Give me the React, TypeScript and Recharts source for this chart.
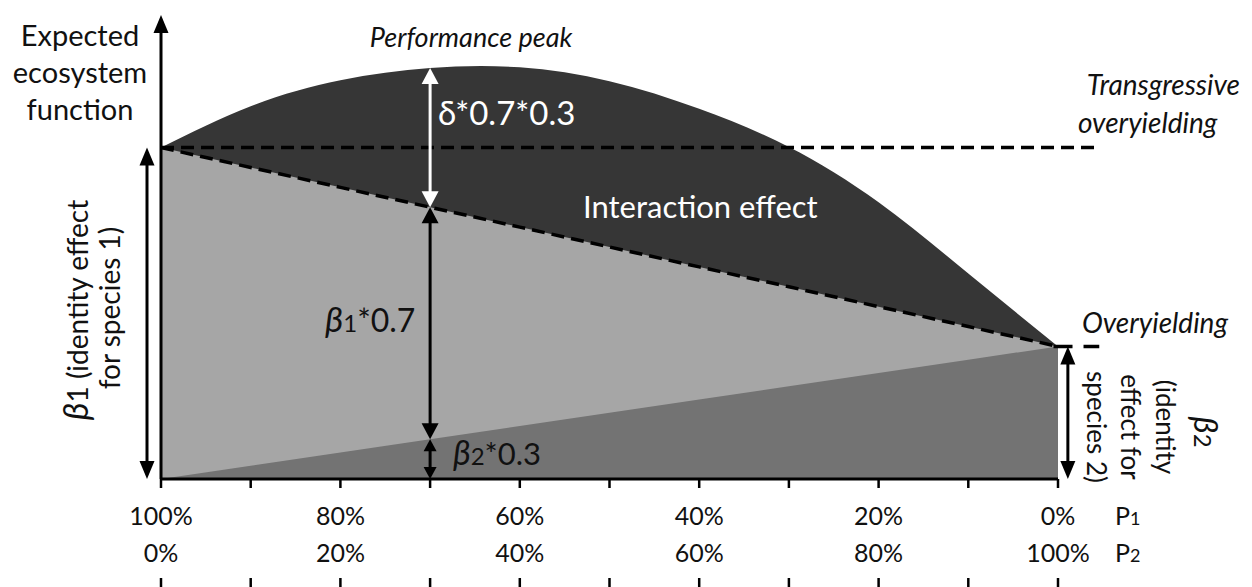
import React from "react";
import {
  Area,
  ComposedChart,
  Line,
  ReferenceLine,
  XAxis,
  YAxis,
} from "recharts";

// share of species 2 (P2) in percent, species 1 is 100 - P2
const p2Ticks = [0, 10, 20, 30, 40, 50, 60, 70, 80, 90, 100];
const p1Labels = ["100%", "", "80%", "", "60%", "", "40%", "", "20%", "", "0%"];
const p2Labels = ["0%", "", "20%", "", "40%", "", "60%", "", "80%", "", "100%"];

// expected function with the interaction term
const curveValues = [10, 11.25, 12.03, 12.4, 12.42, 12.0, 11.17, 10.02, 8.35, 6.2, 4];
// additive expectation beta1*P1 + beta2*P2 (dashed line)
const additiveValues = [10, 9.4, 8.8, 8.2, 7.6, 7.0, 6.4, 5.8, 5.2, 4.6, 4];
// contribution of species 2 only
const species2Values = [0, 0.4, 0.8, 1.2, 1.6, 2.0, 2.4, 2.8, 3.2, 3.6, 4];

const beta1 = 10;
const beta2 = 4;
const axisTop = 14;

const data = p2Ticks.map((p2, i) => ({
  p2,
  curve: curveValues[i],
  additive: additiveValues[i],
  sp2: species2Values[i],
}));

const FONT = "Lato, 'Open Sans', sans-serif";

function arrowShape(
  color: string,
  width: number,
  headLen: number,
  headW: number,
  both: boolean
) {
  return (props: any) => {
    const { x1, y1, x2, y2 } = props;
    const dx = x2 - x1;
    const dy = y2 - y1;
    const len = Math.hypot(dx, dy) || 1;
    const ux = dx / len;
    const uy = dy / len;
    const px = -uy;
    const py = ux;
    const head = (tx: number, ty: number, dx0: number, dy0: number) => {
      const bx = tx - dx0 * headLen;
      const by = ty - dy0 * headLen;
      const pts = [
        [tx, ty],
        [bx + (px * headW) / 2, by + (py * headW) / 2],
        [bx - (px * headW) / 2, by - (py * headW) / 2],
      ]
        .map((p) => p.join(","))
        .join(" ");
      return <polygon points={pts} fill={color} />;
    };
    const sx = both ? x1 + ux * headLen * 0.8 : x1;
    const sy = both ? y1 + uy * headLen * 0.8 : y1;
    const ex = x2 - ux * headLen * 0.8;
    const ey = y2 - uy * headLen * 0.8;
    return (
      <g>
        <line x1={sx} y1={sy} x2={ex} y2={ey} stroke={color} strokeWidth={width} />
        {both && head(x1, y1, -ux, -uy)}
        {head(x2, y2, ux, uy)}
      </g>
    );
  };
}

function PercentTick(props: any) {
  const { x, y, payload, index } = props;
  const i = typeof index === "number" ? index : p2Ticks.indexOf(payload.value);
  return (
    <g>
      <text x={x} y={y + 37} textAnchor="middle" fontFamily={FONT} fontSize={25} fill="#111">
        {p1Labels[i]}
      </text>
      <text x={x} y={y + 74} textAnchor="middle" fontFamily={FONT} fontSize={25} fill="#111">
        {p2Labels[i]}
      </text>
      <line x1={x} x2={x} y1={y + 90} y2={y + 100} stroke="#000" strokeWidth={2.5} />
    </g>
  );
}

const mid = 3; // index of the 70% / 30% mixture

export default function App() {
  return (
    <div style={{ position: "absolute", left: 0, top: 0, width: 1252, height: 587, background: "#fff" }}>
      <ComposedChart
        width={1252}
        height={587}
        data={data}
        margin={{ top: 15, right: 194, left: 161, bottom: 0 }}
      >
        <XAxis
          dataKey="p2"
          type="number"
          domain={[0, 100]}
          ticks={p2Ticks}
          interval={0}
          height={108}
          axisLine={{ stroke: "#000", strokeWidth: 3 }}
          tickLine={{ stroke: "#000", strokeWidth: 2.5 }}
          tickSize={9}
          tickMargin={0}
          tick={<PercentTick />}
        />
        <YAxis type="number" domain={[0, axisTop]} hide allowDataOverflow />
        <Area
          type="natural"
          dataKey="curve"
          fill="#363636"
          fillOpacity={1}
          stroke="none"
          isAnimationActive={false}
        />
        <Area
          type="linear"
          dataKey="additive"
          fill="#a6a6a6"
          fillOpacity={1}
          stroke="none"
          isAnimationActive={false}
        />
        <Area
          type="linear"
          dataKey="sp2"
          fill="#737373"
          fillOpacity={1}
          stroke="none"
          isAnimationActive={false}
        />
        <Line
          type="linear"
          dataKey="additive"
          stroke="#000"
          strokeWidth={3.5}
          strokeDasharray="13 7"
          dot={false}
          isAnimationActive={false}
        />
        {/* transgressive overyielding threshold */}
        <ReferenceLine
          segment={[{ x: 0, y: beta1 }, { x: 104.3, y: beta1 }]}
          stroke="#000"
          strokeWidth={3.5}
          strokeDasharray="13 7"
          ifOverflow="visible"
        />
        {/* overyielding threshold */}
        <ReferenceLine
          segment={[{ x: 99.5, y: beta2 }, { x: 104.6, y: beta2 }]}
          stroke="#000"
          strokeWidth={3.5}
          strokeDasharray="19 11"
          ifOverflow="visible"
        />
        {/* y axis */}
        <ReferenceLine
          segment={[{ x: 0, y: 0 }, { x: 0, y: axisTop }]}
          ifOverflow="visible"
          shape={arrowShape("#000", 3, 18, 15, false)}
        />
        {/* beta1 */}
        <ReferenceLine
          segment={[{ x: -1.56, y: 0 }, { x: -1.56, y: beta1 }]}
          ifOverflow="visible"
          shape={arrowShape("#000", 3, 18, 15, true)}
        />
        {/* beta2 */}
        <ReferenceLine
          segment={[{ x: 101.1, y: 0 }, { x: 101.1, y: beta2 }]}
          ifOverflow="visible"
          shape={arrowShape("#000", 3, 18, 15, true)}
        />
        {/* interaction at 70/30 */}
        <ReferenceLine
          segment={[{ x: p2Ticks[mid], y: additiveValues[mid] }, { x: p2Ticks[mid], y: curveValues[mid] }]}
          ifOverflow="visible"
          shape={arrowShape("#fff", 3, 16, 17, true)}
        />
        <ReferenceLine
          segment={[{ x: p2Ticks[mid], y: species2Values[mid] }, { x: p2Ticks[mid], y: additiveValues[mid] }]}
          ifOverflow="visible"
          shape={arrowShape("#000", 3, 16, 17, true)}
        />
        <ReferenceLine
          segment={[{ x: p2Ticks[mid], y: 0 }, { x: p2Ticks[mid], y: species2Values[mid] }]}
          ifOverflow="visible"
          shape={arrowShape("#000", 3, 12, 13, true)}
        />
      </ComposedChart>
      <svg
        width={1252}
        height={587}
        style={{ position: "absolute", left: 0, top: 0, pointerEvents: "none" }}
        fontFamily={FONT}
      >
        <g fontSize={29} textAnchor="middle" fill="#111">
          <text x={80} y={46}>Expected</text>
          <text x={80} y={83}>ecosystem</text>
          <text x={80} y={120}>function</text>
        </g>
        <text x={471} y={47} fontSize={27} fontStyle="italic" textAnchor="middle" fill="#111">
          Performance peak
        </text>
        <text x={438} y={125} fontSize={33} fill="#fff">
          δ*0.7*0.3
        </text>
        <text x={583} y={218} fontSize={31} fill="#fff">
          Interaction effect
        </text>
        <g fontSize={28} fontStyle="italic" fill="#111">
          <text x={1240} y={95} textAnchor="end">Transgressive</text>
          <text x={1078} y={133}>overyielding</text>
          <text x={1082} y={333}>Overyielding</text>
        </g>
        <text x={325} y={332} fontSize={32} fill="#111">
          <tspan fontStyle="italic" fontSize={35}>β</tspan>
          <tspan fontSize={24}>1</tspan>
          <tspan>*0.7</tspan>
        </text>
        <text x={453} y={465} fontSize={31} fill="#111">
          <tspan fontStyle="italic" fontSize={34}>β</tspan>
          <tspan fontSize={24}>2</tspan>
          <tspan>*0.3</tspan>
        </text>
        <g fontSize={28} fill="#111" textAnchor="middle">
          <text x={88} y={310} transform="rotate(-90 88 310)">
            <tspan fontStyle="italic" fontSize={34}>β</tspan>
            <tspan>1 (identity effect</tspan>
          </text>
          <text x={120} y={308} transform="rotate(-90 120 308)">
            for species 1)
          </text>
        </g>
        <g fontSize={26} fill="#111" textAnchor="middle">
          <text x={1087} y={427} transform="rotate(90 1087 427)">
            species 2)
          </text>
          <text x={1121} y={427} transform="rotate(90 1121 427)">
            effect for
          </text>
          <text x={1156} y={427} transform="rotate(90 1156 427)">
            (identity
          </text>
          <text x={1194} y={432} transform="rotate(90 1194 432)">
            <tspan fontStyle="italic" fontSize={33}>β</tspan>
            <tspan fontSize={24}>2</tspan>
          </text>
        </g>
        <g fontSize={25} fill="#111">
          <text x={1115} y={525}>
            P<tspan fontSize={18}>1</tspan>
          </text>
          <text x={1115} y={562}>
            P<tspan fontSize={18}>2</tspan>
          </text>
        </g>
      </svg>
    </div>
  );
}
